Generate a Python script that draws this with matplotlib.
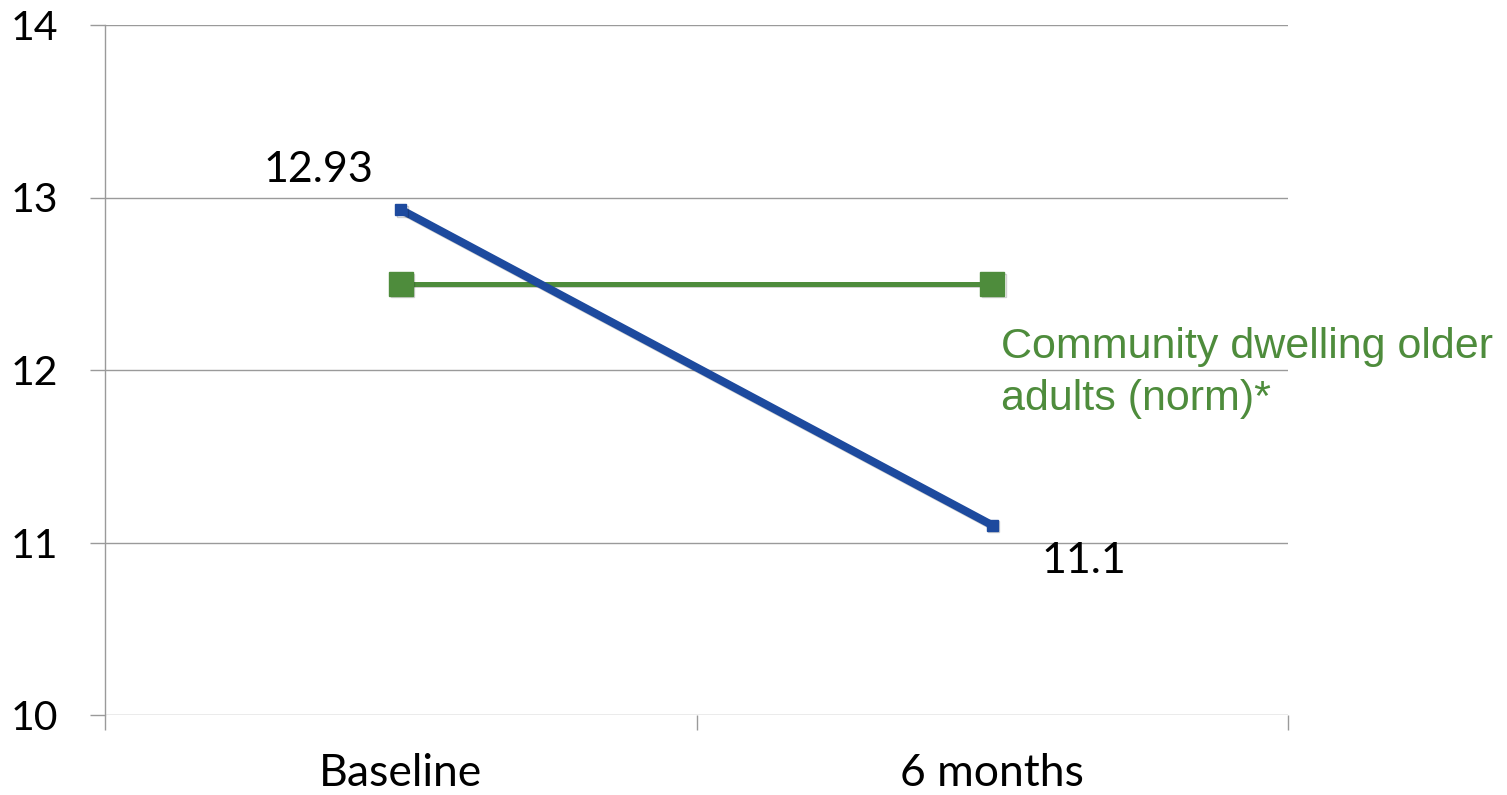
import matplotlib
matplotlib.use("Agg")
import matplotlib.pyplot as plt
import matplotlib.patheffects as pe

# Data
categories = ["Baseline", "6 months"]
patient_scores = [12.93, 11.1]
norm_scores = [12.5, 12.5]
norm_label = "Community dwelling older\nadults (norm)*"
y_ticks = [10, 11, 12, 13, 14]

BLUE = "#1d4a9e"
GREEN = "#4e8c3c"
GRID = "#9a9a9a"

fig = plt.figure(figsize=(15.07, 7.95), dpi=100)
ax = fig.add_axes([105 / 1507, 1 - 715 / 795, (1288 - 105) / 1507, (715 - 25) / 795])

x = [0.5, 1.5]
shadow = [pe.SimpleLineShadow(offset=(1.2, -1.2), alpha=0.18), pe.Normal()]

ax.plot(x, norm_scores, color=GREEN, lw=3.6, marker="s", ms=17,
        mfc=GREEN, mec=GREEN, zorder=3, path_effects=shadow)
ax.plot(x, patient_scores, color=BLUE, lw=5.8, marker="s", ms=8,
        mfc=BLUE, mec=BLUE, zorder=4, solid_capstyle="butt", path_effects=shadow)

ax.set_xlim(0, 2)
ax.set_ylim(10, 14)

# Axis styling
for side in ("top", "right", "bottom"):
    ax.spines[side].set_visible(False)
ax.spines["left"].set_color(GRID)
ax.spines["left"].set_linewidth(1.0)

ax.set_yticks(y_ticks)
ax.yaxis.grid(True, color=GRID, lw=1.0)
ax.set_axisbelow(True)
ax.tick_params(axis="y", length=11, width=1.0, color=GRID, pad=23,
               labelsize=29.5, labelcolor="black")
for lbl in ax.get_yticklabels():
    lbl.set_fontfamily("Lato")

ax.set_xticks([0, 1, 2])
ax.set_xticklabels([])
ax.set_xticks(x, minor=True)
ax.set_xticklabels(categories, minor=True, fontsize=32, fontfamily="Lato")
ax.tick_params(axis="x", which="major", length=11, width=1.0, color=GRID)
ax.tick_params(axis="x", which="minor", length=0, pad=27)

# Value labels
ax.annotate(f"{patient_scores[0]:g}", xy=(x[0], patient_scores[0]),
            xytext=(-82, 40), textcoords="offset pixels",
            ha="center", va="center", fontsize=31, fontfamily="Lato")
ax.annotate(f"{patient_scores[1]:g}", xy=(x[1], patient_scores[1]),
            xytext=(92, -36), textcoords="offset pixels",
            ha="center", va="center", fontsize=31, fontfamily="Lato")

# Norm series label
ax.annotate(norm_label, xy=(x[1], norm_scores[1]),
            xytext=(9, -43), textcoords="offset pixels",
            ha="left", va="top", fontsize=31, color=GREEN,
            fontfamily="Liberation Sans", linespacing=1.4,
            annotation_clip=False)

fig.savefig("out.png", dpi=100)
